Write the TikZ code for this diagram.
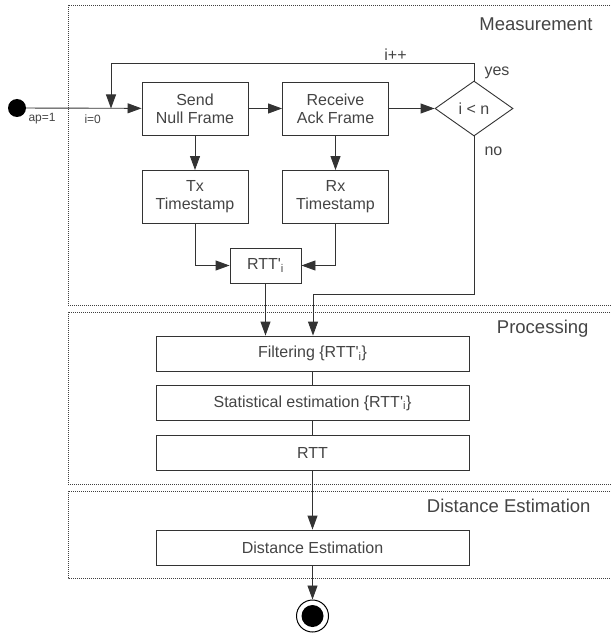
\documentclass[tikz,border=0pt]{standalone}
\usepackage{fontspec}
\setmainfont{Liberation Sans}
\usetikzlibrary{shapes.geometric,arrows.meta}
\definecolor{linegray}{HTML}{333333}
\definecolor{textgray}{HTML}{444444}
\newcommand{\rttprime}{RTT\textquotesingle\textsubscript{i}}

\begin{document}
\begin{tikzpicture}[x=1pt,y=-1pt,
    >={Triangle[length=14pt,width=10pt]},
    every node/.style={font=\fontsize{16}{18}\selectfont, text=textgray},
    box/.style={draw=linegray, line width=0.9pt, align=center, inner sep=0pt,
      minimum width=106pt, minimum height=53pt},
    widebox/.style={box, minimum width=313pt, minimum height=35pt},
    decision/.style={diamond, draw=linegray, line width=0.9pt, inner sep=0pt,
      aspect=1.42, minimum width=78pt, minimum height=55pt},
    flow/.style={->, draw=linegray, line width=0.9pt},
    plain/.style={draw=linegray, line width=0.9pt},
    frame/.style={draw=black!75, line width=0.8pt, dash pattern=on 1pt off 1pt},
    section/.style={font=\fontsize{18.5}{20}\selectfont, anchor=east},
    small/.style={font=\fontsize{12}{14}\selectfont, anchor=west}]

        \useasboundingbox (0,0) rectangle (610,639);

        % Draw the dotted frames of the three stages
        \draw[frame] (612,5) -| (68,305) -- (612,305);
        \draw[frame] (612,312) -| (68,484) -- (612,484);
        \draw[frame] (612,491) -| (68,578) -- (612,578);

        % Stage titles
        \node[section] (meastitle) at (596,24) {Measurement};
        \node[section] (proctitle) at (592,329) {Processing};
        \node[section] (disttitle) at (594,506) {Distance Estimation};

        % Start and end states
        \node[circle, fill=black, inner sep=0pt, minimum size=18pt] (start) at (17,108) {};
        \node[circle, draw=black, line width=1pt, inner sep=0pt, minimum size=32pt] (stop) at (312.5,616) {};
        \node[circle, fill=black, inner sep=0pt, minimum size=22pt] (stopdot) at (stop) {};

        % Measurement loop
        \node[box] (send) at (195,108.5) {Send\\Null Frame};
        \node[box] (recv) at (335.5,108.5) {Receive\\Ack Frame};
        \node[decision] (check) at (474,108.5) {i < n};
        \node[box] (tx) at (195,197) {Tx\\Timestamp};
        \node[box] (rx) at (335.5,197) {Rx\\Timestamp};
        \node[box, minimum width=71pt, minimum height=35pt] (rtti) at (265.5,265.5) {\rttprime};

        % Processing and distance estimation
        \node[widebox] (filter) at (312.5,353.5) {Filtering \{\rttprime\}};
        \node[widebox] (stat) at (312.5,403) {Statistical estimation \{\rttprime\}};
        \node[widebox] (rtt) at (312.5,452.5) {RTT};
        \node[widebox] (distbox) at (312.5,547.5) {Distance Estimation};

        % Points where the loop lines turn
        \coordinate (loopin) at (111,108.5);
        \coordinate (looptop) at (111,63);
        \coordinate (nobend) at (313,294);

        % Connectors
        \draw[flow] (start) -- (send);
        \draw[flow] (check.north) |- (looptop) -- (loopin);
        \draw[flow] (send) -- (recv);
        \draw[flow] (recv) -- (check);
        \draw[flow] (send) -- (tx);
        \draw[flow] (recv) -- (rx);
        \draw[flow] (tx.south) |- (rtti.west);
        \draw[flow] (rx.south) |- (rtti.east);
        \draw[flow] (rtti.south) -- (rtti.south |- filter.north);
        \draw[flow] (check.south) |- (nobend) -- (nobend |- filter.north);
        \draw[plain] (filter) -- (stat);
        \draw[plain] (stat) -- (rtt);
        \draw[flow] (rtt) -- (distbox);
        \draw[flow] (distbox) -- (stop);

        % Loop labels
        \node[small] (aplabel) at (25,119) {ap=1};
        \node[small] (initlabel) at (81,119) {i=0};
        \node (inclabel) at (395.5,55) {i++};
        \node[anchor=west] (yeslabel) at (481,73) {yes};
        \node[anchor=west] (nolabel) at (481,151) {no};
      \end{tikzpicture}
\end{document}
